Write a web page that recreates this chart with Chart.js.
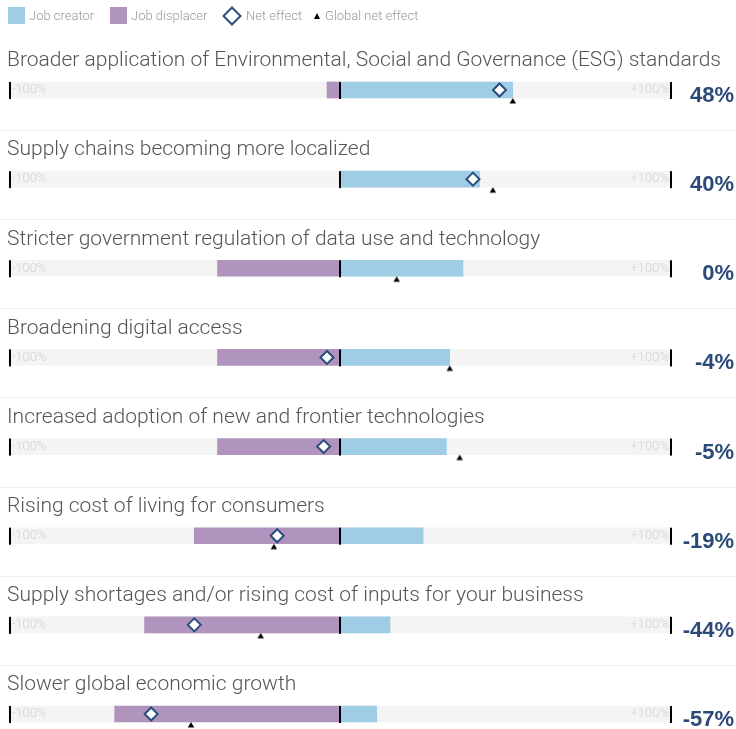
<!DOCTYPE html>
<html>
<head>
<meta charset="utf-8">
<script src="https://cdn.jsdelivr.net/npm/chart.js@4.4.1/dist/chart.umd.min.js"></script>
<style>
  body { margin: 0; background: #fff; }
  #wrap { position: relative; width: 736px; height: 729px; }
  #legend { position: absolute; left: 0; top: 0; width: 736px; height: 30px;
            font-family: Roboto, "Liberation Sans", sans-serif; font-weight: 300;
            font-size: 13px; color: #999; }
  .item { position: absolute; top: 7px; display: flex; align-items: center; height: 17px; }
  .sw { width: 17px; height: 17px; margin-right: 4px; }
  .dia { width: 10px; height: 10px; border: 2px solid #2b4d7e; transform: rotate(45deg);
         margin: 0 7px 0 3px; background: #fff; }
  .tri { width: 0; height: 0; border-left: 3px solid transparent; border-right: 3px solid transparent;
         border-bottom: 6px solid #000; margin-right: 5px; }
</style>
</head>
<body>
<div id="wrap">
  <canvas id="chart" width="736" height="729"></canvas>
  <div id="legend">
    <div class="item" style="left:8px"><div class="sw" style="background:#a0cde6"></div>Job creator</div>
    <div class="item" style="left:110px"><div class="sw" style="background:#b094bd"></div>Job displacer</div>
    <div class="item" style="left:222px"><div class="dia"></div>Net effect</div>
    <div class="item" style="left:314px"><div class="tri"></div>Global net effect</div>
  </div>
</div>
<script>
// données (en %)
const categories = [
  'Broader application of Environmental, Social and Governance (ESG) standards',
  'Supply chains becoming more localized',
  'Stricter government regulation of data use and technology',
  'Broadening digital access',
  'Increased adoption of new and frontier technologies',
  'Rising cost of living for consumers',
  'Supply shortages and/or rising cost of inputs for your business',
  'Slower global economic growth'
];
const creator   = [52, 42, 37, 33, 32, 25, 15, 11];
const displacer = [-4, 0, -37, -37, -37, -44, -59, -68];
const netEffect = [48, 40, 0, -4, -5, -19, -44, -57];
const globalNet = [52, 46, 17, 33, 36, -20, -24, -45];
const scaleMin = -100, scaleMax = 100;
const boundLabels = ['-100%', '+100%'];

const BLUE = '#a0cde6', PURPLE = '#b094bd', NAVY = '#2b4a78';
const titleFont = '300 21px Roboto, "Liberation Sans", sans-serif';

// petit triangle décalé sous la barre (image centrée sur le point)
const triImg = document.createElement('canvas');
triImg.width = 8; triImg.height = 30;
(function () {
  const c = triImg.getContext('2d');
  c.fillStyle = '#000';
  c.beginPath();
  c.moveTo(4, 23); c.lineTo(7.2, 28.5); c.lineTo(0.8, 28.5);
  c.closePath(); c.fill();
})();

const rowDecor = {
  id: 'rowDecor',
  afterDatasetDraw(chart, args) {
    const ctx = chart.ctx;
    const x = chart.scales.x, y = chart.scales.y;
    if (args.index === 0) {
      // textes -100% / +100% dans la barre grise
      ctx.save();
      ctx.font = '300 13px Roboto, "Liberation Sans", sans-serif';
      ctx.fillStyle = '#d2d2d2';
      ctx.textBaseline = 'middle';
      categories.forEach((c, i) => {
        const yc = y.getPixelForValue(i);
        ctx.textAlign = 'left';
        ctx.fillText(boundLabels[0], x.getPixelForValue(scaleMin) + 3, yc);
        ctx.textAlign = 'right';
        ctx.fillText(boundLabels[1], x.getPixelForValue(scaleMax) - 3, yc);
      });
      ctx.restore();
    }
    if (args.index === 2) {
      // traits noirs : 0, -100 et +100
      ctx.save();
      ctx.fillStyle = '#000';
      categories.forEach((c, i) => {
        const yc = y.getPixelForValue(i);
        [0, scaleMin, scaleMax].forEach(v => {
          let px = x.getPixelForValue(v);
          if (v === scaleMin) px += 1;
          if (v === scaleMax) px -= 1;
          ctx.fillRect(Math.round(px) - 1, yc - 8, 2, 17);
        });
      });
      ctx.restore();
    }
  },
  afterDatasetsDraw(chart) {
    const ctx = chart.ctx;
    const y = chart.scales.y;
    ctx.save();
    categories.forEach((c, i) => {
      const yc = y.getPixelForValue(i);
      // titre
      ctx.font = titleFont;
      ctx.fillStyle = '#555';
      ctx.textAlign = 'left';
      ctx.textBaseline = 'middle';
      ctx.fillText(c, 7, yc - 29);
      // pourcentage net
      ctx.font = 'bold 22px "Liberation Sans", Arial, sans-serif';
      ctx.fillStyle = NAVY;
      ctx.textAlign = 'right';
      ctx.fillText(netEffect[i] + '%', 734, yc + 6);
      // séparateur
      if (i < categories.length - 1) {
        ctx.fillStyle = '#eeeeee';
        ctx.fillRect(0, Math.round(yc + 40), 736, 1);
      }
    });
    ctx.restore();
  }
};

new Chart(document.getElementById('chart'), {
  type: 'bar',
  data: {
    labels: categories,
    datasets: [
      { label: 'bg', data: categories.map(() => [scaleMin, scaleMax]), backgroundColor: '#f4f4f4',
        barThickness: 16, grouped: false, order: 4, clip: false },
      { label: 'Job displacer', data: displacer.map(v => [v, 0]), backgroundColor: PURPLE,
        barThickness: 16, grouped: false, order: 3, clip: false },
      { label: 'Job creator', data: creator.map(v => [0, v]), backgroundColor: BLUE,
        barThickness: 16, grouped: false, order: 2, clip: false },
      { type: 'line', label: 'Net effect', data: netEffect, indexAxis: 'y', showLine: false,
        pointStyle: 'rectRot', pointRadius: c => (c.raw === 0 ? 0 : 6.5),
        pointBackgroundColor: '#fff', pointBorderColor: '#2b4d7e', pointBorderWidth: 2,
        order: 1, clip: false },
      { type: 'line', label: 'Global net effect', data: globalNet, indexAxis: 'y', showLine: false,
        pointStyle: triImg, order: 0, clip: false }
    ]
  },
  options: {
    indexAxis: 'y',
    responsive: false,
    animation: false,
    layout: { padding: { top: 90, bottom: 15, left: 8, right: 64 } },
    scales: {
      x: { type: 'linear', min: scaleMin, max: scaleMax, display: false },
      y: { type: 'category', offset: false, display: false }
    },
    plugins: { legend: { display: false }, tooltip: { enabled: false } }
  },
  plugins: [rowDecor]
});
</script>
</body>
</html>
